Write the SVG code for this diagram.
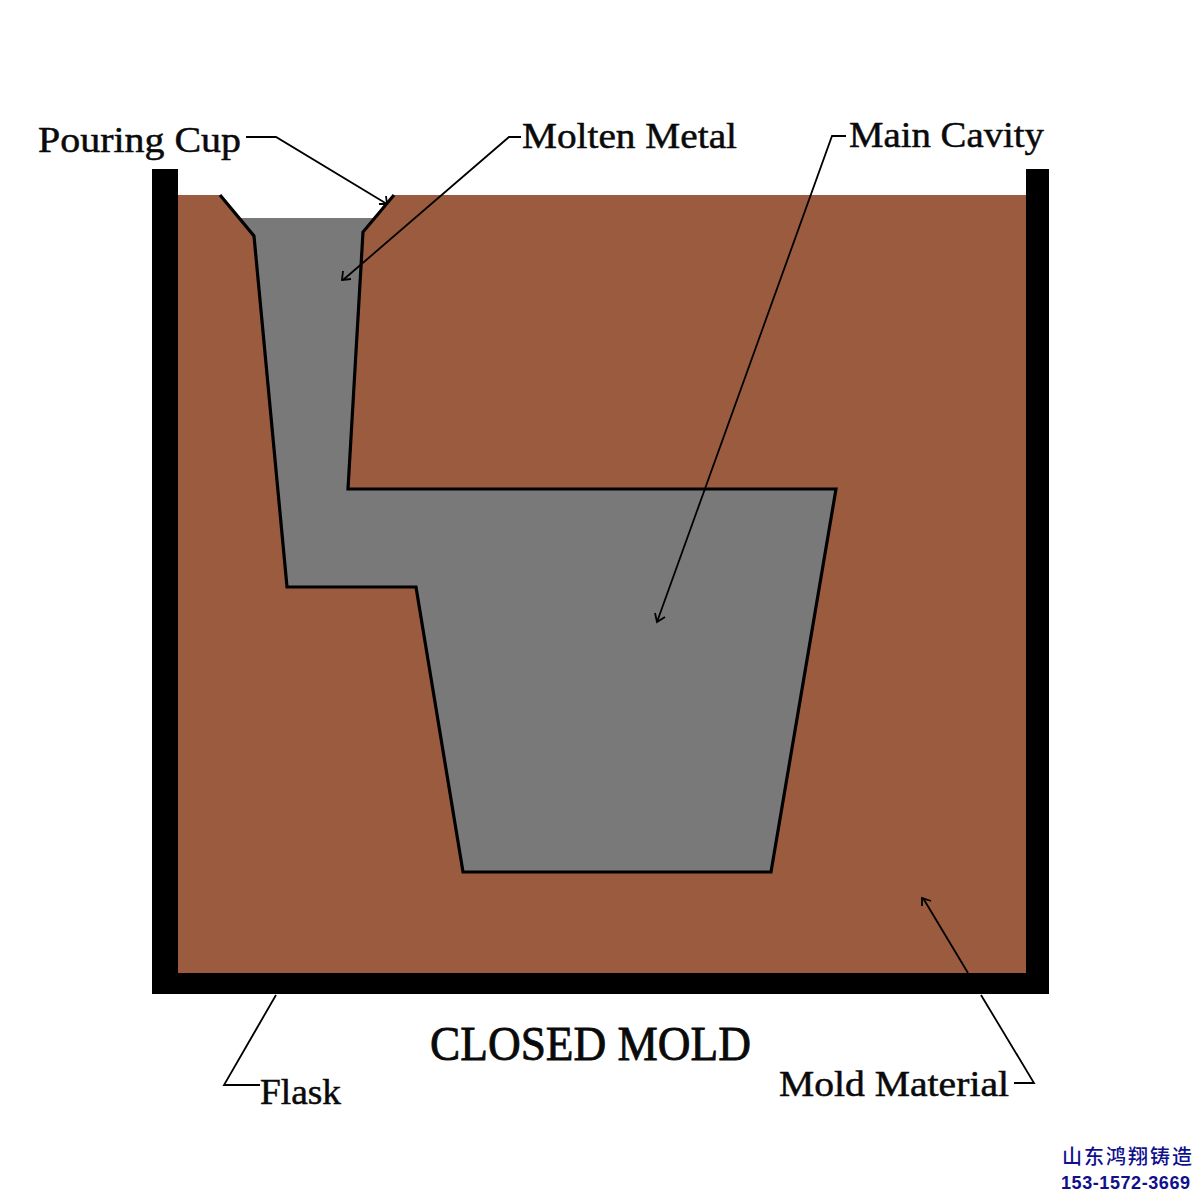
<svg xmlns="http://www.w3.org/2000/svg" width="1200" height="1200" viewBox="0 0 1200 1200">
<style>
.lab{font-family:"Liberation Serif","Noto Serif",serif;fill:#0a0a0a;font-size:36px;stroke:#0a0a0a;stroke-width:0.5}
.c{fill:none;stroke:#000;stroke-width:1.8}
.arrow{fill:none;stroke:#000;stroke-width:1.8}
</style>
<rect width="1200" height="1200" fill="#fff"/>
<g id="mold"><rect x="178" y="195" width="848" height="778" fill="#9b5b3e"/></g>
<g id="cavity">
<polygon points="220,194 394,194 363,232 348,489 836,489 771,872 463,872 416,587 287,587 254,236" fill="#fff"/>
<polygon points="239,218 375,218 363,232 348,489 836,489 771,872 463,872 416,587 287,587 254,236" fill="#797979"/>
<path d="M220,195 L254,236 L287,587 L416,587 L463,872 L771,872 L836,489 L348,489 L363,232 L394,195" fill="none" stroke="#000" stroke-width="3.2"/>
</g>
<g id="flask"><path d="M152,169 H178 V973 H1026 V169 H1049 V994 H152 Z" fill="#000"/></g>
<g id="connectors">
<path class="c" d="M246,137 H276 L387,204"/>
<path class="arrow" d="M379,204 L387,204 L386,196"/>
<path class="c" d="M521,137 H509 L343,280"/>
<path class="arrow" d="M343,271 L342,280 L351,279"/>
<path class="c" d="M846,136 H832 L657,622"/>
<path class="arrow" d="M655,613 L657,622 L665,617"/>
<path class="c" d="M276,995 L224,1085 H260"/>
<path class="c" d="M968,973 L923,898"/>
<path class="arrow" d="M922,906 L922,898 L931,901"/>
<path class="c" d="M981,995 L1034,1083 H1014"/>
</g>
<g id="label-pouring-cup"><text class="lab" x="38" y="152" textLength="203" lengthAdjust="spacingAndGlyphs">Pouring Cup</text></g>
<g id="label-molten-metal"><text class="lab" x="522" y="148" textLength="215" lengthAdjust="spacingAndGlyphs">Molten Metal</text></g>
<g id="label-main-cavity"><text class="lab" x="849" y="147" textLength="195" lengthAdjust="spacingAndGlyphs">Main Cavity</text></g>
<g id="label-flask"><text class="lab" x="260" y="1104" textLength="81" lengthAdjust="spacingAndGlyphs">Flask</text></g>
<g id="label-mold-material"><text class="lab" x="779" y="1096" textLength="230" lengthAdjust="spacingAndGlyphs">Mold Material</text></g>
<g id="title"><text class="lab" x="430" y="1060" style="font-size:48px;stroke-width:0.8" textLength="321" lengthAdjust="spacingAndGlyphs">CLOSED MOLD</text></g>
<g id="watermark">
<text x="1062" y="1164" style="font-family:'Noto Sans CJK SC',sans-serif;font-size:20px;font-weight:500;fill:#10108c" textLength="130">山东鸿翔铸造</text>
<text x="1061" y="1189" style="font-family:'Liberation Sans',sans-serif;font-size:18px;font-weight:700;fill:#10108c" textLength="129">153-1572-3669</text>
</g>
</svg>
